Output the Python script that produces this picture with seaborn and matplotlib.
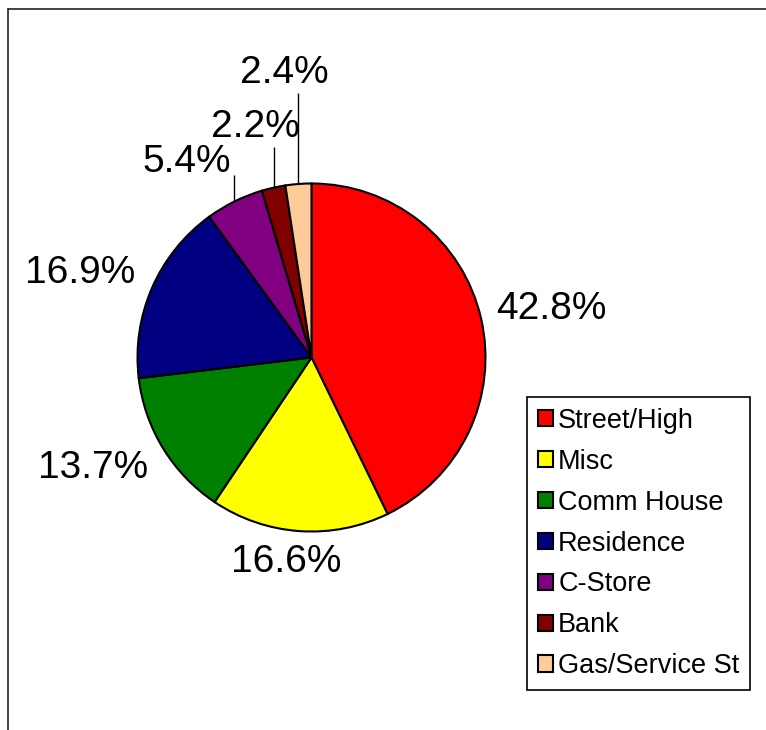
import numpy as np
import matplotlib
matplotlib.use("Agg")
import matplotlib.pyplot as plt
from matplotlib.lines import Line2D
import seaborn as sns

# ---- data ----
categories = ["Street/High", "Misc", "Comm House", "Residence", "C-Store", "Bank", "Gas/Service St"]
values = [42.8, 16.6, 13.7, 16.9, 5.4, 2.2, 2.4]
pct_labels = ["42.8%", "16.6%", "13.7%", "16.9%", "5.4%", "2.2%", "2.4%"]

# ---- styles / layout ----
colors = ["#FF0000", "#FFFF00", "#008000", "#000080", "#800080", "#800000", "#FFCC99"]
label_x = [1.376, -0.147, -1.256, -1.330, -0.716, -0.325, -0.158]
label_y = [0.279, -1.175, -0.635, 0.486, 1.124, 1.325, 1.635]
leader = [False, False, False, False, True, True, True]
leader_gap = [0, 0, 0, 0, 0.075, 0.115, 0.115]

sns.set_theme(style="white")
plt.rcParams["font.family"] = ["Liberation Sans", "DejaVu Sans"]
plt.rcParams["text.color"] = "black"

W, H = 766, 730
fig = plt.figure(figsize=(W / 100, H / 100), dpi=100)
fig.patch.set_facecolor("white")

cx, cy, R = 311.5, 357.5, 174
ax = fig.add_axes([(cx - R) / W, (H - cy - R) / H, 2 * R / W, 2 * R / H])

pal = sns.color_palette(colors)
wedges, _ = ax.pie(values, colors=pal, startangle=90, counterclock=False,
                   wedgeprops=dict(edgecolor="black", linewidth=1.5),
                   labels=None)
for w, lab in zip(wedges, categories):
    w.set_label(lab)
ax.set_xlim(-1, 1)
ax.set_ylim(-1, 1)
ax.axis("off")

for i, (txt, lx, ly) in enumerate(zip(pct_labels, label_x, label_y)):
    ax.text(lx, ly, txt, fontsize=28, ha="center", va="center", color="black")
    if leader[i]:
        w = wedges[i]
        mid = np.deg2rad((w.theta1 + w.theta2) / 2)
        x0, y0 = np.cos(mid), np.sin(mid)
        ax.plot([x0, x0], [y0, ly - leader_gap[i]], color="black", lw=1.0,
                clip_on=False, solid_capstyle="butt")

leg = fig.legend(handles=wedges, labels=categories, loc="upper left",
                 bbox_to_anchor=(527 / W, 1 - 397 / H), borderaxespad=0,
                 fontsize=19.5, handlelength=0.55, handleheight=0.55,
                 handletextpad=0.2, labelspacing=0.55, borderpad=0.4,
                 fancybox=False, framealpha=1, edgecolor="black",
                 labelcolor="black")
leg.get_frame().set_linewidth(1.2)

# figure border (top and left visible)
fig.add_artist(Line2D([8 / W, 1.0], [1 - 9 / H, 1 - 9 / H], transform=fig.transFigure,
                      color="#222222", lw=1.2))
fig.add_artist(Line2D([8 / W, 8 / W], [0.0, 1 - 9 / H], transform=fig.transFigure,
                      color="#222222", lw=1.2))

fig.savefig("out.png", dpi=100)
